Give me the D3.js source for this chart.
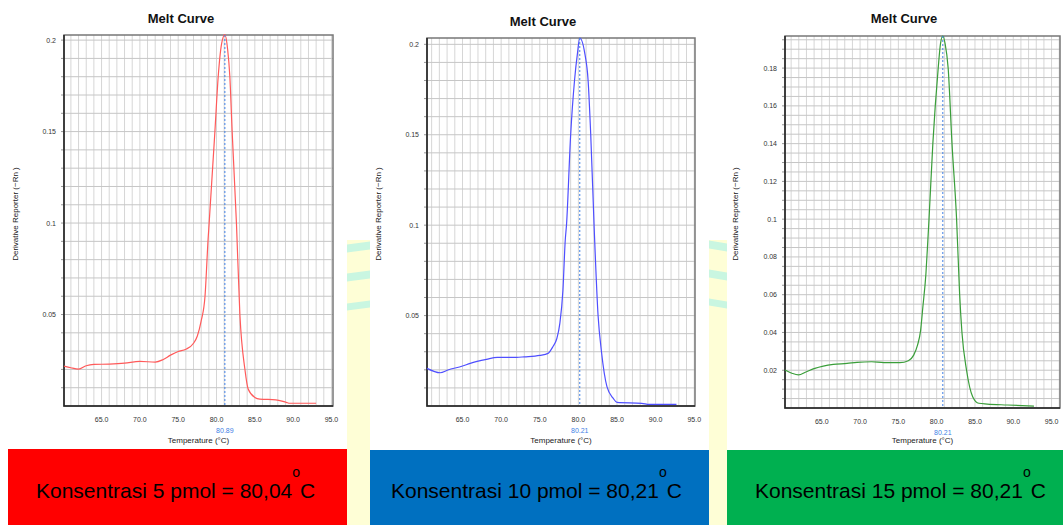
<!DOCTYPE html>
<html>
<head>
<meta charset="utf-8">
<script src="https://cdn.jsdelivr.net/npm/d3@7"></script>
<style>
  body { margin: 0; background: #fff; }
  svg { display: block; font-family: "Liberation Sans", Arial, sans-serif; }
</style>
</head>
<body>
<div id="chart"></div>
<script>
// melt curve values
const temps5 = [60.1, 61.0, 62.0, 63.0, 64.0, 66.0, 68.0, 70.0, 72.0, 73.0, 74.0, 75.0, 76.0, 77.0, 77.5, 78.0, 78.5, 78.9, 79.04, 79.79, 80.22, 80.66, 81.09, 81.45, 81.74, 82.04, 82.6, 83.05, 83.7, 84.13, 85.0, 85.65, 87.74, 89.1, 89.57, 93.0];
const deriv5 = [0.0218, 0.0209, 0.0202, 0.0220, 0.0227, 0.0229, 0.0234, 0.0244, 0.0240, 0.0253, 0.0278, 0.0298, 0.0310, 0.0343, 0.0383, 0.0465, 0.0600, 0.0910, 0.1000, 0.1500, 0.1800, 0.1980, 0.2030, 0.1950, 0.1800, 0.1500, 0.1000, 0.0500, 0.0202, 0.0093, 0.0047, 0.0038, 0.0034, 0.0020, 0.0015, 0.0015];

const temps10 = [60.4, 62.1, 63.1, 65.0, 66.0, 68.1, 69.5, 72.0, 73.0, 75.0, 76.07, 76.7, 77.2, 77.6, 78.0, 78.3, 78.46, 79.0, 79.5, 79.88, 80.18, 80.83, 81.26, 81.6, 82.05, 82.55, 82.99, 83.7, 84.5, 85.0, 88.2, 89.2, 92.7];
const deriv10 = [0.0208, 0.0184, 0.0199, 0.0221, 0.0236, 0.0258, 0.0269, 0.0269, 0.0272, 0.0280, 0.0291, 0.0328, 0.0372, 0.0457, 0.0640, 0.0917, 0.1000, 0.1500, 0.1800, 0.1950, 0.2035, 0.1950, 0.1800, 0.1500, 0.0980, 0.0500, 0.0300, 0.0107, 0.0043, 0.0020, 0.0015, 0.0009, 0.0009];

const temps15 = [60.2, 61.1, 61.95, 63.0, 64.1, 65.2, 66.5, 68.3, 69.6, 71.5, 73.1, 75.2, 76.3, 77.0, 77.5, 77.9, 78.2, 78.6, 78.85, 79.0, 79.5, 80.2, 80.5, 80.8, 81.1, 81.5, 82.0, 82.6, 83.0, 83.3, 83.9, 84.7, 85.5, 86.6, 89.2, 92.7];
const deriv15 = [0.0201, 0.0184, 0.0175, 0.0192, 0.0210, 0.0222, 0.0231, 0.0236, 0.0242, 0.0245, 0.0240, 0.0240, 0.0250, 0.0280, 0.0333, 0.0410, 0.0536, 0.0713, 0.0890, 0.1000, 0.1400, 0.1800, 0.1930, 0.1970, 0.1930, 0.1800, 0.1400, 0.1000, 0.0600, 0.0400, 0.0200, 0.0060, 0.0025, 0.0021, 0.0016, 0.0010];

const xTicks = [65, 70, 75, 80, 85, 90, 95];
const yTicks5 = [0.05, 0.1, 0.15, 0.2];
const yTicks10 = [0.05, 0.1, 0.15, 0.2];
const yTicks15 = [0.02, 0.04, 0.06, 0.08, 0.1, 0.12, 0.14, 0.16, 0.18];

const xDomains = [[60.1, 95.2], [60.4, 95.1], [60.2, 96.1]];
const yMaxes = [0.2028, 0.2035, 0.197];
const gridSteps = [0.01, 0.01, 0.005];
const peakTemps = [81.09, 80.18, 80.8];
const peakLabels = ["80.89", "80.21", "80.21"];
const concLabels = ["Konsentrasi 5 pmol = 80,04", "Konsentrasi 10 pmol = 80,21", "Konsentrasi 15 pmol = 80,21"];

const series = [
    { t: temps5, v: deriv5, ticks: yTicks5 },
    { t: temps10, v: deriv10, ticks: yTicks10 },
    { t: temps15, v: deriv15, ticks: yTicks15 }
];

// layout of each panel on the page
const panels = [
    { left: 64, right: 333, top: 35, bottom: 406, titleX: 181, titleY: 23, ylabX: 15, line: "#ff5a5a",
      boxX: 8, boxW: 339, boxY: 449, boxFill: "#ff0000", textX: 36 },
    { left: 427, right: 695, top: 38, bottom: 406, titleX: 543, titleY: 26, ylabX: 378, line: "#4f4fff",
      boxX: 370, boxW: 339, boxY: 450, boxFill: "#0070c0", textX: 391 },
    { left: 785, right: 1060, top: 36, bottom: 408, titleX: 904, titleY: 23, ylabX: 735, line: "#3a9e3a",
      boxX: 727, boxW: 336, boxY: 450, boxFill: "#00b050", textX: 755 }
];

const width = 1063, height = 525;
const svg = d3.select("#chart").append("svg")
    .attr("width", width)
    .attr("height", height);

// yellow slide strips with teal bands between the panels
const strips = [
    { x: 347, w: 23, bands: [[243, 251], [272, 280], [302, 309]], slant: 3 },
    { x: 709, w: 18, bands: [[242, 250], [271, 279], [300, 307]], slant: -3 }
];
strips.forEach(s => {
    svg.append("rect").attr("x", s.x).attr("y", 240).attr("width", s.w).attr("height", height - 240)
        .attr("fill", "#fefed6");
    s.bands.forEach(b => {
        svg.append("path")
            .attr("d", `M${s.x},${b[0] + s.slant / 2} L${s.x + s.w},${b[0] - s.slant / 2} L${s.x + s.w},${b[1] - s.slant / 2} L${s.x},${b[1] + s.slant / 2}Z`)
            .attr("fill", "#c9f6e1");
    });
});

panels.forEach((p, i) => {
    const s = series[i];
    const x = d3.scaleLinear().domain(xDomains[i]).range([p.left, p.right]);
    const y = d3.scaleLinear().domain([0, yMaxes[i]]).range([p.bottom, p.top]);
    const g = svg.append("g");

    g.append("rect").attr("x", p.left).attr("y", p.top)
        .attr("width", p.right - p.left).attr("height", p.bottom - p.top)
        .attr("fill", "#fff");

    // grid
    const vLines = d3.range(Math.ceil(xDomains[i][0]), Math.floor(xDomains[i][1]) + 1);
    g.selectAll(".vg").data(vLines).enter().append("line")
        .attr("x1", d => x(d)).attr("x2", d => x(d))
        .attr("y1", p.top).attr("y2", p.bottom)
        .attr("stroke", "#d6d6d6").attr("stroke-width", 1);
    const hLines = d3.range(1, Math.floor(yMaxes[i] / gridSteps[i] + 1e-6) + 1).map(k => k * gridSteps[i]);
    g.selectAll(".hg").data(hLines).enter().append("line")
        .attr("x1", p.left).attr("x2", p.right)
        .attr("y1", d => y(d)).attr("y2", d => y(d))
        .attr("stroke", "#c6c6c6").attr("stroke-width", 1);

    // y axis small ticks + labels
    g.selectAll(".yt").data(hLines).enter().append("line")
        .attr("x1", p.left - 3).attr("x2", p.left)
        .attr("y1", d => y(d)).attr("y2", d => y(d))
        .attr("stroke", "#999");
    g.selectAll(".yl").data(s.ticks).enter().append("text")
        .attr("x", p.left - 8).attr("y", d => y(d) + 2.5)
        .attr("text-anchor", "end").attr("font-size", 7).attr("fill", "#333")
        .text(d => String(d));

    // x labels
    g.selectAll(".xl").data(xTicks).enter().append("text")
        .attr("x", d => x(d)).attr("y", p.bottom + 16)
        .attr("text-anchor", "middle").attr("font-size", 7).attr("fill", "#333")
        .text(d => d3.format(".1f")(d));

    // frame
    g.append("rect").attr("x", p.left).attr("y", p.top)
        .attr("width", p.right - p.left).attr("height", p.bottom - p.top)
        .attr("fill", "none").attr("stroke", "#777").attr("stroke-width", 1.5);
    g.append("path")
        .attr("d", `M${p.left},${p.top} V${p.bottom} H${p.right}`)
        .attr("fill", "none").attr("stroke", "#222").attr("stroke-width", 1.5);

    // curve
    const line = d3.line()
        .x(d => x(d[0])).y(d => y(d[1]))
        .curve(d3.curveMonotoneX);
    g.append("path")
        .datum(d3.zip(s.t, s.v))
        .attr("d", line)
        .attr("fill", "none").attr("stroke", p.line).attr("stroke-width", 1.2);

    // peak marker
    g.append("line")
        .attr("x1", x(peakTemps[i])).attr("x2", x(peakTemps[i]))
        .attr("y1", p.top).attr("y2", p.bottom)
        .attr("stroke", "#3f7fe6").attr("stroke-width", 1).attr("stroke-dasharray", "2,2");
    g.append("text")
        .attr("x", x(peakTemps[i])).attr("y", p.bottom + 27)
        .attr("text-anchor", "middle").attr("font-size", 7).attr("fill", "#3f7fe6")
        .text(peakLabels[i]);

    // titles
    g.append("text")
        .attr("x", p.titleX).attr("y", p.titleY)
        .attr("text-anchor", "middle").attr("font-size", 13).attr("font-weight", "bold")
        .attr("fill", "#111")
        .text("Melt Curve");
    g.append("text")
        .attr("x", (p.left + p.right) / 2).attr("y", 443)
        .attr("text-anchor", "middle").attr("font-size", 8).attr("fill", "#222")
        .text("Temperature (°C)");
    g.append("text")
        .attr("transform", `translate(${p.ylabX + 3},214) rotate(-90)`)
        .attr("text-anchor", "middle").attr("font-size", 8).attr("fill", "#222")
        .text("Derivative Reporter (−Rn )");

    // coloured result box
    svg.append("rect")
        .attr("x", p.boxX).attr("y", p.boxY)
        .attr("width", p.boxW).attr("height", height - p.boxY)
        .attr("fill", p.boxFill);
    const t = svg.append("text")
        .attr("x", p.textX).attr("y", 498)
        .attr("font-size", 21).attr("fill", "#000");
    t.append("tspan").text(concLabels[i]);
    t.append("tspan").attr("dy", -21).attr("font-size", 14).text("o");
    t.append("tspan").attr("dy", 21).attr("font-size", 21).text("C");
});
</script>
</body>
</html>
